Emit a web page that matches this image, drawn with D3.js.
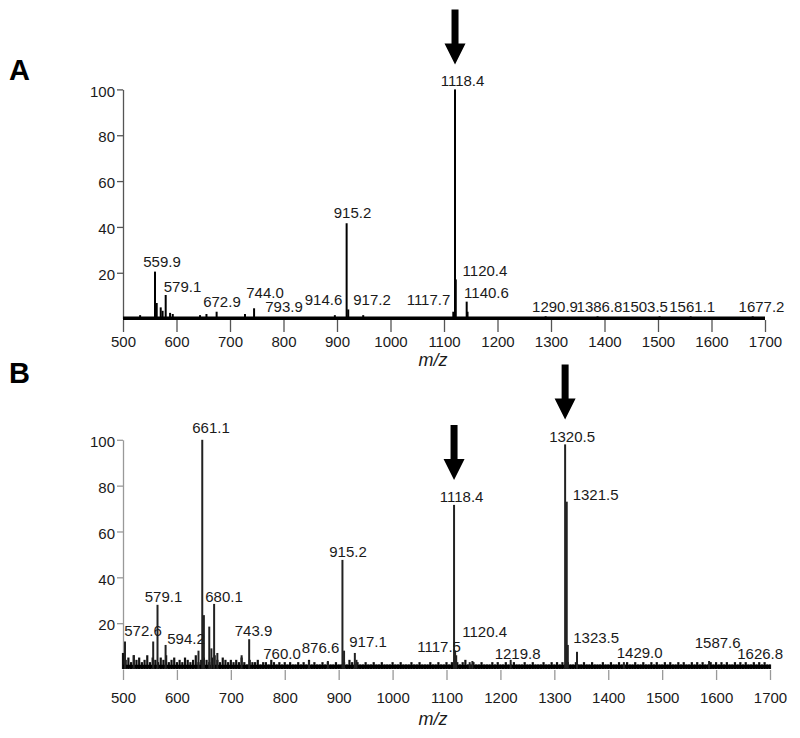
<!DOCTYPE html>
<html>
<head>
<meta charset="utf-8">
<script src="https://cdn.jsdelivr.net/npm/d3@7"></script>
<style>
  body { margin: 0; background: #fff; }
  svg { display: block; }
  text { font-family: "Liberation Sans", Arial, Helvetica, sans-serif; fill: #1a1a1a; }
</style>
</head>
<body>
<div id="chart"></div>
<script>
const ticksX = [500, 600, 700, 800, 900, 1000, 1100, 1200, 1300, 1400, 1500, 1600, 1700];
const ticksY = [20, 40, 60, 80, 100];

// Panel A: [m/z, relative intensity]
const peaksA = [
  [532, 1.5], [559.8, 20.5], [563, 6.8], [570.5, 4.9], [574, 3.4], [579.8, 10.3],
  [588, 2.5], [593, 2], [644, 1.5], [656, 2], [675, 3], [728, 2], [745, 4.5],
  [896, 1.5], [918, 41.6], [921, 4], [949, 1.5], [1117.4, 3], [1120.6, 100],
  [1122, 17.1], [1142.4, 7.4], [1144, 3], [1290, 1], [1387, 1], [1503, 1], [1561, 1], [1677, 1]
];
const labelsA = ["1118.4", "915.2", "559.9", "579.1", "672.9", "744.0", "793.9", "914.6", "917.2",
  "1117.7", "1120.4", "1140.6", "1290.9", "1386.8", "1503.5", "1561.1", "1677.2"];
// where each label sits, in chart units [m/z, intensity]
const labelSpotA = [
  [1134.6, 101.5], [929, 43.9], [572.9, 22.5], [611.2, 11.6], [685, 5.1], [765.4, 9.0],
  [801, 2.9], [874.8, 5.9], [965.4, 5.9], [1071, 5.9], [1176.6, 18.6], [1179.4, 9.0],
  [1307.5, 2.9], [1390.7, 2.9], [1475.7, 2.9], [1564, 2.9], [1693.5, 2.9]
];
const arrowsA = [1120.6];

// Panel B
const peaksB = [
  [503.7, 12], [520, 6], [556, 12], [564, 28], [579, 10.5], [640, 8], [647, 100],
  [650, 23.5], [660, 18.5], [664, 9], [669, 28.4], [675, 7], [720, 6], [734, 13],
  [845, 3.5], [880, 3.5], [907, 47.6], [910, 8], [930, 7], [933, 4], [1114, 71.6], [1116, 8],
  [1118, 6], [1143, 3], [1148, 3.5], [1219, 4], [1320, 98], [1323, 73], [1325, 10.5],
  [1342, 7.5], [1429, 3], [1587, 3.5]
];
const labelsB = ["661.1", "579.1", "680.1", "572.6", "594.2", "743.9", "760.0", "876.6", "917.1",
  "915.2", "1118.4", "1320.5", "1321.5", "1117.5", "1120.4", "1219.8", "1323.5", "1429.0",
  "1587.6", "1626.8"];
const labelSpotB = [
  [663.3, 103], [575.1, 29.4], [687.4, 29.2], [537.1, 14.5], [616.9, 10.9], [742.1, 14.5],
  [795, 4.4], [866.4, 7.0], [954.5, 9.7], [917.4, 49], [1128, 72.9], [1333, 99],
  [1376.6, 73.7], [1086.3, 7.4], [1170.7, 14.1], [1231.9, 4.4], [1377.6, 11.3],
  [1458.3, 4.8], [1603, 9.2], [1681.8, 4.4]
];
const arrowsB = [1114, 1320];

// Panel B baseline noise, one value per 5 m/z from 500 to 1700
const noiseB = [
  7, 4, 5, 3, 6, 4, 5, 3, 4, 6, 3, 5, 4, 3, 5, 4, 6, 3, 4, 5, 3,
  4, 3, 5, 4, 3, 4, 6, 3, 4, 5, 4, 3, 5, 6, 4, 3, 5, 4, 3, 4,
  3, 4, 3, 5, 3, 2, 4, 3, 3, 4, 2, 3, 3, 2, 4, 3, 2, 3, 2, 3,
  2, 3, 2, 2, 3, 2, 3, 2, 4, 2, 3, 2, 2, 3, 2, 3, 2, 2, 3, 2,
  2, 3, 2, 4, 3, 2, 3, 2, 2, 3, 2, 2, 3, 2, 2, 3, 2, 2, 2, 3,
  2, 2, 3, 2, 2, 2, 3, 2, 2, 3, 2, 2, 2, 3, 2, 2, 3, 2, 2, 3,
  2, 3, 4, 3, 2, 3, 4, 2, 2, 3, 2, 2, 3, 2, 2, 2, 3, 2, 3, 2,
  2, 3, 2, 2, 3, 2, 2, 2, 3, 2, 2, 3, 2, 2, 2, 3, 2, 2, 3, 2,
  3, 2, 3, 2, 3, 2, 2, 3, 2, 2, 3, 2, 2, 3, 2, 2, 2, 3, 2, 2,
  3, 2, 2, 3, 2, 2, 3, 2, 2, 3, 2, 2, 3, 2, 2, 3, 2, 3, 2, 2,
  3, 2, 3, 2, 2, 3, 2, 3, 2, 2, 3, 2, 3, 2, 3, 2, 2, 3, 2, 3,
  2, 3, 2, 3, 2, 2, 3, 2, 3, 2, 3, 2, 2, 3, 2, 3, 2, 3, 2, 2
];

const width = 800, height = 738;
const svg = d3.select("#chart").append("svg").attr("width", width).attr("height", height);

function drawPanel(cfg) {
  const x = d3.scaleLinear().domain([500, 1700]).range([123, cfg.right]);
  const y = d3.scaleLinear().domain([0, 100]).range([cfg.zero, cfg.zero - 229.2]);
  const g = svg.append("g");

  // panel letter
  svg.append("text").attr("x", 9).attr("y", cfg.letterY)
    .style("font-size", "29px").style("font-weight", "bold").style("fill", "#000")
    .text(cfg.letter);

  // y axis
  g.append("g")
    .attr("transform", `translate(${x(500)},0)`)
    .call(d3.axisLeft(y).tickValues(ticksY).tickSize(6).tickSizeOuter(0).tickPadding(2))
    .call(a => a.select(".domain").attr("stroke", cfg.axisColor).attr("stroke-width", 1.3))
    .call(a => a.selectAll(".tick line").attr("stroke", cfg.axisColor).attr("stroke-width", 1.3))
    .call(a => a.selectAll("text").style("font-size", "15px").attr("dy", "0.45em")
      .style("font-family", "'Liberation Sans', Arial, sans-serif").attr("fill", "#1a1a1a"));

  // x axis
  g.append("g")
    .attr("transform", `translate(0,${cfg.tickTop})`)
    .call(d3.axisBottom(x).tickValues(ticksX).tickSize(cfg.tickLen).tickFormat(d3.format("d")))
    .call(a => a.select(".domain").remove())
    .call(a => a.selectAll(".tick line").attr("stroke", cfg.axisColor).attr("stroke-width", 1.3))
    .call(a => a.selectAll("text").style("font-size", "15px")
      .style("font-family", "'Liberation Sans', Arial, sans-serif").attr("fill", "#1a1a1a")
      .attr("y", cfg.tickLabelY - cfg.tickTop).attr("dy", null));

  g.append("text")
    .attr("x", 433).attr("y", cfg.mzY).attr("text-anchor", "middle")
    .style("font-size", "18px").style("font-style", "italic")
    .text("m/z");

  // baseline noise
  if (cfg.noise) {
    g.append("g").selectAll("line")
      .data(cfg.noise)
      .join("line")
      .attr("x1", (d, i) => x(500 + i * 5)).attr("x2", (d, i) => x(500 + i * 5))
      .attr("y1", y(0)).attr("y2", d => y(d))
      .attr("stroke", "#111").attr("stroke-width", 2.2);
  }

  // thick baseline
  g.append("line")
    .attr("x1", x(500)).attr("x2", x(1700))
    .attr("y1", y(cfg.baseLevel)).attr("y2", y(cfg.baseLevel))
    .attr("stroke", "#000").attr("stroke-width", cfg.baseWidth);

  // peaks
  g.append("g").selectAll("line")
    .data(cfg.peaks)
    .join("line")
    .attr("x1", d => x(d[0])).attr("x2", d => x(d[0]))
    .attr("y1", y(0)).attr("y2", d => y(d[1]))
    .attr("stroke", cfg.peakColor).attr("stroke-width", 2);

  // peak labels
  g.append("g").selectAll("text")
    .data(cfg.labels)
    .join("text")
    .attr("x", (d, i) => x(cfg.spots[i][0]))
    .attr("y", (d, i) => y(cfg.spots[i][1]))
    .attr("text-anchor", "middle")
    .style("font-size", "15px")
    .text(d => d);

  // arrows
  const arrow = d3.line();
  g.append("g").selectAll("path")
    .data(cfg.arrows)
    .join("path")
    .attr("d", mz => {
      const peak = cfg.peaks.find(p => p[0] === mz);
      const cx = x(mz), tip = y(peak[1]) - 25;
      return arrow([
        [cx - 3.5, tip - 55], [cx + 3.5, tip - 55], [cx + 3.5, tip - 21], [cx + 10.5, tip - 21],
        [cx, tip], [cx - 10.5, tip - 21], [cx - 3.5, tip - 21]
      ]) + "Z";
    })
    .attr("fill", "#000");
}

drawPanel({
  letter: "A", letterY: 80, right: 765, zero: 318.6,
  tickTop: 320, tickLen: 12, tickLabelY: 347, mzY: 366,
  axisColor: "#555", peakColor: "#000", baseLevel: 0.2, baseWidth: 3.5,
  peaks: peaksA, labels: labelsA, spots: labelSpotA, arrows: arrowsA, noise: null
});

drawPanel({
  letter: "B", letterY: 383, right: 770, zero: 669,
  tickTop: 670, tickLen: 10, tickLabelY: 703, mzY: 725,
  axisColor: "#999", peakColor: "#222", baseLevel: 1, baseWidth: 4,
  peaks: peaksB, labels: labelsB, spots: labelSpotB, arrows: arrowsB, noise: noiseB
});
</script>
</body>
</html>
